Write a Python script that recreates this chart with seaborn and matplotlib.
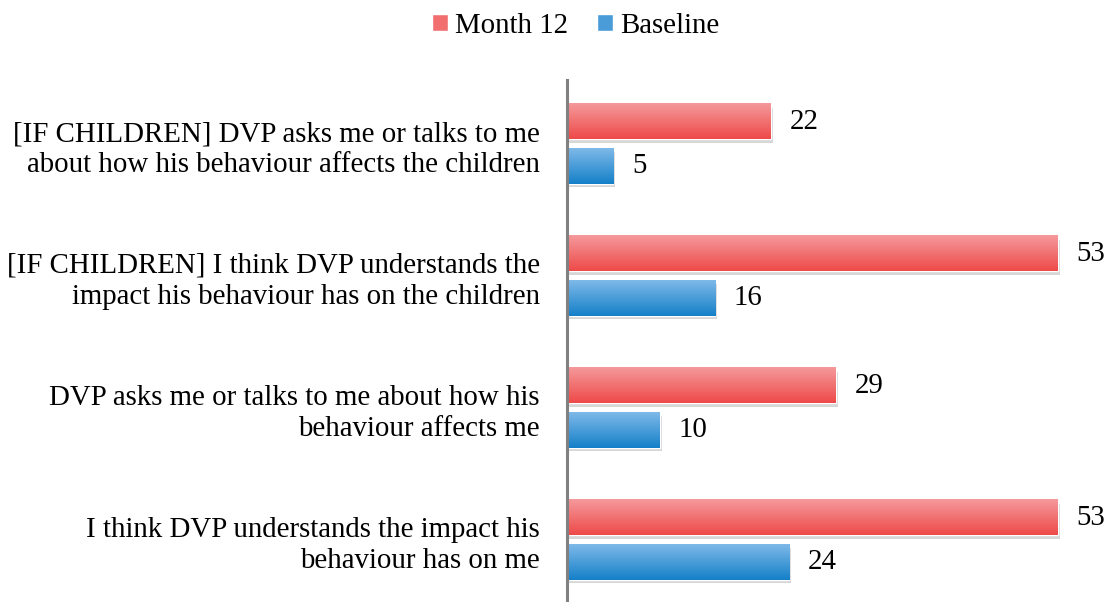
import numpy as np
import pandas as pd
import matplotlib.pyplot as plt
import seaborn as sns
import matplotlib.patches as mpatches
import matplotlib.patheffects as pe
from matplotlib.colors import LinearSegmentedColormap

# data
questions = [
    "[IF CHILDREN] DVP asks me or talks to me\nabout how his behaviour affects the children",
    "[IF CHILDREN] I think DVP understands the\nimpact his behaviour has on the children",
    "DVP asks me or talks to me about how his\nbehaviour affects me",
    "I think DVP understands the impact his\nbehaviour has on me",
]
month12 = [22, 53, 29, 53]
baseline = [5, 16, 10, 24]
series = ["Month 12", "Baseline"]

df = pd.DataFrame({
    "question": questions * 2,
    "value": month12 + baseline,
    "series": [series[0]] * 4 + [series[1]] * 4,
})

red_top, red_bot = "#F5999B", "#EE4A49"
blue_top, blue_bot = "#7EB9E9", "#1580C8"
pal = {"Month 12": red_bot, "Baseline": blue_bot}
grads = {"Month 12": (red_top, red_bot), "Baseline": (blue_top, blue_bot)}

sns.set_style("white")
plt.rcParams["font.family"] = ["Liberation Serif", "DejaVu Serif"]
plt.rcParams["text.color"] = "black"
plt.rcParams["ytick.color"] = "black"
fs = 20.8

fig = plt.figure(figsize=(11.1, 6.02), dpi=100)
ax = fig.add_axes([567 / 1110, 0, 1 - 567 / 1110, 522 / 602])

sns.barplot(data=df, y="question", x="value", hue="series", hue_order=series,
            palette=pal, orient="h", width=0.68, gap=0.22, legend=False, ax=ax)

xmax = 543 / (491 / 53)

# gradient fill + soft shadow
for cont, name in zip(ax.containers, series):
    cmap = LinearSegmentedColormap.from_list(name, grads[name])
    for bar in cont:
        x0, y0 = bar.get_x(), bar.get_y()
        w, h = bar.get_width(), bar.get_height()
        bar.set_path_effects([pe.SimplePatchShadow(offset=(1.5, -2.5), shadow_rgbFace="#b0b0b0", alpha=0.5), pe.Normal()])
        grad = np.linspace(0, 1, 64).reshape(-1, 1)
        ax.imshow(grad, cmap=cmap, aspect="auto", origin="upper",
                  extent=(x0, x0 + w, y0 + h, y0), zorder=bar.get_zorder() + 0.1)
    ax.bar_label(cont, padding=13.5, fontsize=fs, color="black")

ax.set_xlim(0, xmax)
ax.set_ylim(3.47, -0.485)

ax.set_xlabel("")
ax.set_ylabel("")
ax.set_xticks([])
ax.tick_params(axis="y", length=0, pad=19.5, labelsize=fs, labelcolor="black")
for lbl in ax.get_yticklabels():
    lbl.set_horizontalalignment("right")
    lbl.set_multialignment("right")
    lbl.set_linespacing(1.27)
for s in ["top", "right", "bottom"]:
    ax.spines[s].set_visible(False)
ax.spines["left"].set_color("#808080")
ax.spines["left"].set_linewidth(2.2)

handles = [mpatches.Patch(facecolor="#F26F70", label="Month 12"),
           mpatches.Patch(facecolor="#4A9CD9", label="Baseline")]
fig.legend(handles=handles, loc="center", bbox_to_anchor=(576 / 1110, 1 - 26 / 602),
           ncol=2, frameon=False, fontsize=fs, handlelength=0.55, handleheight=0.55,
           handletextpad=0.25, columnspacing=1.0)

fig.savefig("out.png", dpi=100)
